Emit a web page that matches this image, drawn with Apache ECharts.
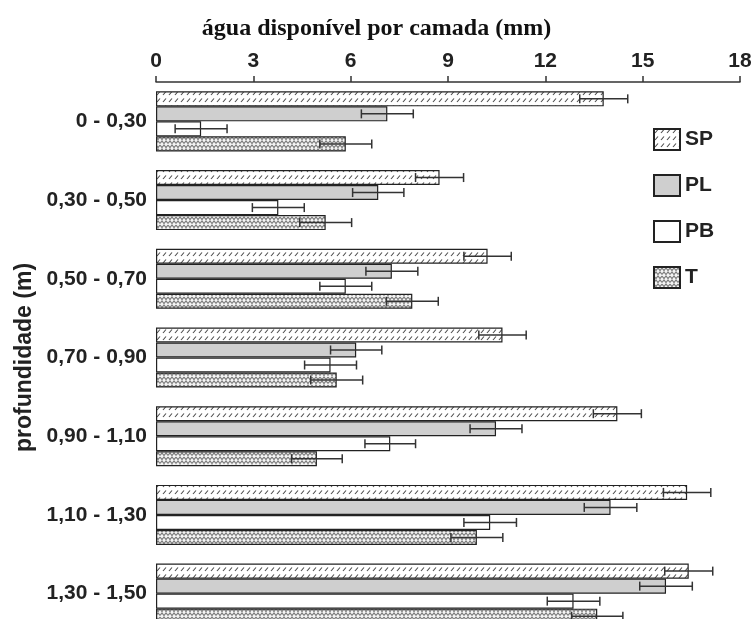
<!DOCTYPE html>
<html>
<head>
<meta charset="utf-8">
<script src="https://cdn.jsdelivr.net/npm/echarts@6/dist/echarts.min.js"></script>
<style>
  html, body { margin: 0; padding: 0; background: #ffffff; overflow: hidden; }
  #chart { width: 753px; height: 619px; }
</style>
</head>
<body>
<div id="chart"></div>
<script>
// Depth layers (m) and available water per layer (mm) for each treatment
const categories = ['0 - 0,30', '0,30 - 0,50', '0,50 - 0,70', '0,70 - 0,90', '0,90 - 1,10', '1,10 - 1,30', '1,30 - 1,50'];
const seriesNames = ['SP', 'PL', 'PB', 'T'];

const spValues = [13.80, 8.74, 10.22, 10.68, 14.22, 16.37, 16.42];
const plValues = [7.13, 6.85, 7.27, 6.17, 10.48, 14.01, 15.72];
const pbValues = [1.39, 3.77, 5.85, 5.38, 7.22, 10.30, 12.87];
const tValues  = [5.85, 5.23, 7.90, 5.57, 4.96, 9.89, 13.60];

// Half-width of the error bars (mm)
const spErrors = [0.74, 0.74, 0.73, 0.73, 0.74, 0.73, 0.74];
const plErrors = [0.80, 0.79, 0.80, 0.79, 0.80, 0.81, 0.81];
const pbErrors = [0.80, 0.80, 0.80, 0.80, 0.78, 0.81, 0.81];
const tErrors  = [0.80, 0.80, 0.80, 0.80, 0.78, 0.80, 0.79];

// Value axis ticks: 0, 3, 6, ... 18
const xMin = 0, xMax = 18, xStep = 3;

const SANS = '"Liberation Sans", Arial, Helvetica, sans-serif';
const SERIF = '"Liberation Serif", "Times New Roman", serif';
const CAT_GAP = 0.237;
const EDGE = '#222222';

// Fill patterns
function makeTile(w, h, draw) {
  const c = document.createElement('canvas');
  c.width = w; c.height = h;
  draw(c.getContext('2d'), w, h);
  return { image: c, repeat: 'repeat' };
}
const hatchFill = makeTile(6, 7, (ctx, w, h) => {
  ctx.fillStyle = '#ffffff'; ctx.fillRect(0, 0, w, h);
  ctx.strokeStyle = '#4a4a4a'; ctx.lineWidth = 1.1;
  ctx.beginPath(); ctx.moveTo(1, 4); ctx.lineTo(4, 0.5); ctx.stroke();
});
const zigzagFill = makeTile(8, 8, (ctx, w, h) => {
  ctx.fillStyle = '#f4f4f4'; ctx.fillRect(0, 0, w, h);
  ctx.strokeStyle = '#7a7a7a'; ctx.lineWidth = 1.2;
  ctx.beginPath();
  ctx.moveTo(0, 1); ctx.lineTo(2, 3.5); ctx.lineTo(4, 1); ctx.lineTo(6, 3.5); ctx.lineTo(8, 1);
  ctx.moveTo(0, 7.5); ctx.lineTo(2, 5); ctx.lineTo(4, 7.5); ctx.lineTo(6, 5); ctx.lineTo(8, 7.5);
  ctx.stroke();
});

const fills = [hatchFill, '#cfcfcf', '#ffffff', zigzagFill];
const valueSets = [spValues, plValues, pbValues, tValues];
const errorSets = [spErrors, plErrors, pbErrors, tErrors];

function barSeries(k) {
  return {
    name: seriesNames[k],
    type: 'bar',
    data: valueSets[k],
    barGap: '0%',
    barCategoryGap: (CAT_GAP * 100) + '%',
    itemStyle: { color: fills[k], borderColor: EDGE, borderWidth: 1.2 },
    emphasis: { disabled: true },
    z: 2
  };
}

function errorSeries(k) {
  return {
    name: seriesNames[k] + '-erro',
    type: 'custom',
    silent: true,
    z: 5,
    data: valueSets[k].map((v, i) => [v, i, errorSets[k][i]]),
    encode: { x: 0, y: 1 },
    renderItem: (params, api) => {
      const v = api.value(0), idx = api.value(1), e = api.value(2);
      const band = api.size([0, 1])[1];
      const barW = band * (1 - CAT_GAP) / 4;
      const c = api.coord([v, idx]);
      const y = c[1] - band * (1 - CAT_GAP) / 2 + (k + 0.5) * barW;
      const xa = api.coord([v - e, idx])[0];
      const xb = api.coord([v + e, idx])[0];
      const h = 4.5;
      const st = { stroke: '#333333', lineWidth: 1.5 };
      return {
        type: 'group',
        children: [
          { type: 'line', shape: { x1: xa, y1: y, x2: xb, y2: y }, style: st },
          { type: 'line', shape: { x1: xa, y1: y - h, x2: xa, y2: y + h }, style: st },
          { type: 'line', shape: { x1: xb, y1: y - h, x2: xb, y2: y + h }, style: st }
        ]
      };
    }
  };
}

const chart = echarts.init(document.getElementById('chart'), null, { renderer: 'canvas' });
chart.setOption({
  animation: false,
  backgroundColor: '#ffffff',
  title: {
    text: 'água disponível por camada (mm)',
    left: 'center',
    top: 12,
    textStyle: { fontFamily: SERIF, fontWeight: 'bold', fontSize: 24, color: '#111111' }
  },
  legend: {
    data: seriesNames,
    orient: 'vertical',
    left: 648,
    top: 123,
    itemWidth: 26,
    itemHeight: 21,
    itemGap: 23,
    icon: 'rect',
    selectedMode: false,
    textStyle: { fontFamily: SANS, fontWeight: 'bold', fontSize: 21, color: '#222222' }
  },
  // the last depth band runs past the lower edge of the canvas
  grid: { left: 156, right: 13, top: 82, height: 551, containLabel: false, outerBoundsMode: 'none' },
  xAxis: {
    type: 'value',
    position: 'top',
    min: xMin,
    max: xMax,
    interval: xStep,
    axisLine: { show: true, lineStyle: { color: '#333333', width: 1.5 } },
    axisTick: { show: true, length: 6, lineStyle: { color: '#333333', width: 1.5 } },
    axisLabel: { margin: 10, fontFamily: SANS, fontWeight: 'bold', fontSize: 21, color: '#222222' },
    splitLine: { show: false }
  },
  yAxis: {
    type: 'category',
    inverse: true,
    data: categories,
    axisLine: { show: false },
    axisTick: { show: false },
    axisLabel: { margin: 9, fontFamily: SANS, fontWeight: 'bold', fontSize: 21, color: '#222222' },
    name: 'profundidade (m)',
    nameLocation: 'middle',
    nameRotate: 90,
    nameGap: 116,
    nameTextStyle: { fontFamily: SANS, fontWeight: 'bold', fontSize: 23, color: '#222222' }
  },
  series: [0, 1, 2, 3].map(barSeries).concat([0, 1, 2, 3].map(errorSeries))
});
</script>
</body>
</html>
